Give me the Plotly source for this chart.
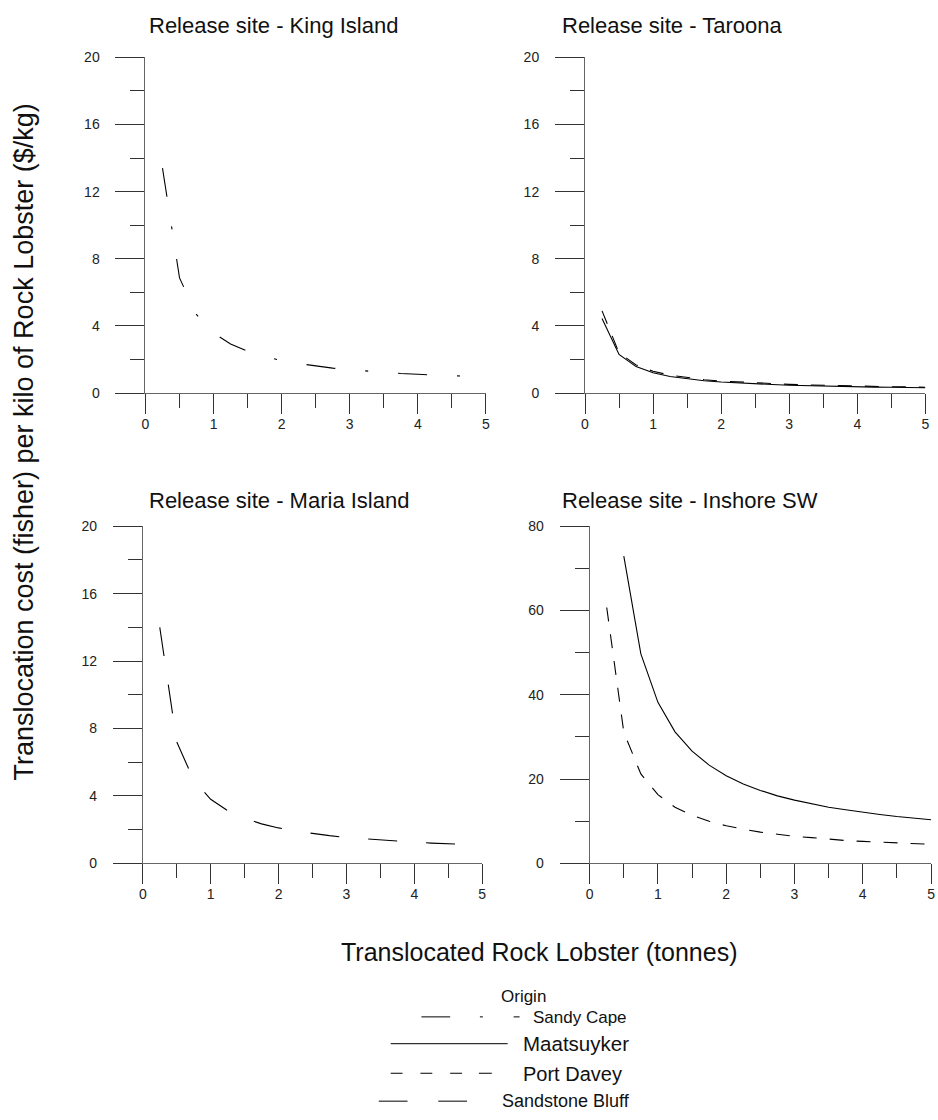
import plotly.graph_objects as go

# ---------------- data ----------------
tonnes_q = [0.25, 0.5, 0.75, 1.0, 1.25, 1.5, 1.75, 2.0, 2.25, 2.5, 2.75, 3.0,
            3.25, 3.5, 3.75, 4.0, 4.25, 4.5, 4.75, 5.0]
tonnes_h = [0.5, 0.75, 1.0, 1.25, 1.5, 1.75, 2.0, 2.25, 2.5, 2.75, 3.0,
            3.25, 3.5, 3.75, 4.0, 4.25, 4.5, 4.75, 5.0]

# King Island release - Sandy Cape origin
king_sandy = [13.4, 6.86, 4.67, 3.58, 2.92, 2.49, 2.17, 1.94, 1.76, 1.61, 1.49, 1.39,
              1.31, 1.24, 1.17, 1.12, 1.07, 1.03, 0.99, 0.96]
# Taroona release
taroona_maat = [4.45, 2.3, 1.58, 1.21, 0.99, 0.85, 0.74, 0.66, 0.6, 0.55, 0.51, 0.47,
                0.44, 0.42, 0.4, 0.38, 0.36, 0.35, 0.33, 0.32]
taroona_port = [4.9, 2.4, 1.68, 1.3, 1.07, 0.92, 0.8, 0.72, 0.66, 0.6, 0.56, 0.52,
                0.49, 0.46, 0.44, 0.42, 0.4, 0.38, 0.37, 0.35]
# Maria Island release - Sandstone Bluff origin
maria_sand = [14.0, 7.2, 4.93, 3.8, 3.12, 2.67, 2.34, 2.1, 1.91, 1.76, 1.64, 1.53,
              1.45, 1.37, 1.31, 1.25, 1.2, 1.16, 1.12, 1.08]
# Inshore SW release
sw_maat = [72.9, 49.7, 38.2, 31.2, 26.6, 23.3, 20.8, 18.8, 17.3, 16.0, 15.0,
           14.1, 13.3, 12.7, 12.1, 11.6, 11.1, 10.7, 10.35]
sw_port = [60.7, 31.1, 21.2, 16.3, 13.3, 11.4, 10.0, 8.9, 8.1, 7.4, 6.9, 6.4,
           6.1, 5.7, 5.4, 5.2, 5.0, 4.8, 4.6, 4.5]

panel_titles = ["Release site - King Island", "Release site - Taroona",
                "Release site - Maria Island", "Release site - Inshore SW"]
origins = ["Sandy Cape", "Maatsuyker", "Port Davey", "Sandstone Bluff"]
x_title = "Translocated Rock Lobster (tonnes)"
y_title = "Translocation cost (fisher) per kilo of Rock Lobster ($/kg)"

# ---------------- styling ----------------
W, H = 938, 1120
FONT = "Arial, 'Liberation Sans', sans-serif"
dash_sandy = "29px,30px,3px,30px"
dash_port = "14px,13px"
dash_sand = "29px,29px"


def px(x):
    return x / W


def py(y):
    return 1 - y / H


fig = go.Figure()

line_w = 1.1
fig.add_trace(go.Scatter(x=tonnes_q, y=king_sandy, mode="lines", xaxis="x", yaxis="y",
                         line=dict(color="black", width=line_w, dash=dash_sandy)))
fig.add_trace(go.Scatter(x=tonnes_q, y=taroona_maat, mode="lines", xaxis="x2", yaxis="y2",
                         line=dict(color="black", width=line_w)))
fig.add_trace(go.Scatter(x=tonnes_q, y=taroona_port, mode="lines", xaxis="x2", yaxis="y2",
                         line=dict(color="black", width=line_w, dash=dash_port)))
fig.add_trace(go.Scatter(x=tonnes_q, y=maria_sand, mode="lines", xaxis="x3", yaxis="y3",
                         line=dict(color="black", width=line_w, dash=dash_sand)))
fig.add_trace(go.Scatter(x=tonnes_h, y=sw_maat, mode="lines", xaxis="x4", yaxis="y4",
                         line=dict(color="black", width=line_w)))
fig.add_trace(go.Scatter(x=tonnes_q, y=sw_port, mode="lines", xaxis="x4", yaxis="y4",
                         line=dict(color="black", width=line_w, dash=dash_port)))

tickfont = dict(family=FONT, size=14, color="#222")


def xax(dom, anchor):
    return dict(domain=dom, anchor=anchor, range=[0, 5], showline=True, linecolor="#666",
                linewidth=1, ticks="outside", ticklen=20, tickcolor="#333", tickwidth=1,
                tick0=0, dtick=1, showgrid=False, zeroline=False, tickfont=tickfont,
                ticklabelstandoff=-2, fixedrange=True,
                minor=dict(ticks="outside", ticklen=14, dtick=0.5, tick0=0,
                           tickcolor="#333", showgrid=False))


def yax(dom, anchor, top, major, minor):
    return dict(domain=dom, anchor=anchor, range=[0, top], showline=True, linecolor="#666",
                linewidth=1, ticks="outside", ticklen=29, tickcolor="#333", tickwidth=1,
                tick0=0, dtick=major, showgrid=False, zeroline=False, tickfont=tickfont,
                ticklabelstandoff=13, fixedrange=True,
                minor=dict(ticks="outside", ticklen=14, dtick=minor, tick0=0,
                           tickcolor="#333", showgrid=False))


top_dom = [py(390.7), py(50)]
bot_dom = [py(867.7), py(525.7)]

fig.update_layout(
    width=W, height=H, margin=dict(l=0, r=0, t=0, b=0),
    paper_bgcolor="white", plot_bgcolor="white", showlegend=False,
    font=dict(family=FONT, color="#111"),
    xaxis=xax([px(142.7), px(486)], "y"),
    yaxis=yax(top_dom, "x", 20, 4, 2),
    xaxis2=xax([px(586), px(929.3)], "y2"),
    yaxis2=yax(top_dom, "x2", 20, 4, 2),
    xaxis3=xax([px(140), px(482.3)], "y3"),
    yaxis3=yax(bot_dom, "x3", 20, 4, 2),
    xaxis4=xax([px(590.7), px(935)], "y4"),
    yaxis4=yax(bot_dom, "x4", 80, 20, 10),
)

ann = []
title_pos = [(144, 18), (561, 18), (144, 500), (561, 500)]
for t, (x0, y0) in zip(panel_titles, title_pos):
    ann.append(dict(text=t, x=px(x0), y=py(y0), xref="paper", yref="paper",
                    xanchor="left", yanchor="middle", showarrow=False,
                    font=dict(family=FONT, size=22, color="#111")))
ann.append(dict(text=x_title, x=px(540), y=py(958), xref="paper", yref="paper",
                xanchor="center", yanchor="middle", showarrow=False,
                font=dict(family=FONT, size=25, color="#111")))
ann.append(dict(text=y_title, x=px(20), y=py(440), xref="paper", yref="paper",
                xanchor="center", yanchor="middle", showarrow=False, textangle=-90,
                font=dict(family=FONT, size=27, color="#111")))

# legend (drawn manually to mimic the original layout)
ann.append(dict(text="Origin", x=px(524), y=py(1002.5), xref="paper", yref="paper",
                xanchor="center", yanchor="middle", showarrow=False,
                font=dict(family=FONT, size=17, color="#111")))
leg_rows = [(origins[0], 532, 1024, 17), (origins[1], 521, 1051, 20.5),
            (origins[2], 521, 1081.5, 20), (origins[3], 500, 1109, 18)]
for name, x0, y0, fs in leg_rows:
    ann.append(dict(text=name, x=px(x0), y=py(y0), xref="paper", yref="paper",
                    xanchor="left", yanchor="middle", showarrow=False,
                    font=dict(family=FONT, size=fs, color="#111")))

leg_segments = [
    (1023.5, [(421, 450), (480, 483), (514, 520)]),
    (1050.7, [(390, 508)]),
    (1080.7, [(390, 402), (420, 432), (450, 462), (479, 492)]),
    (1109, [(378, 407), (438, 467)]),
]
shapes = []
for yy, segs in leg_segments:
    for a, b in segs:
        shapes.append(dict(type="line", xref="paper", yref="paper",
                           x0=px(a), x1=px(b), y0=py(yy), y1=py(yy),
                           line=dict(color="black", width=1)))

fig.update_layout(annotations=ann, shapes=shapes, hovermode=False)

fig.write_html(
    "out.html",
    config={"displayModeBar": False, "staticPlot": True},
    post_script="document.body.style.margin='0';document.body.style.padding='0';"
                "document.body.style.overflow='hidden';",
)
